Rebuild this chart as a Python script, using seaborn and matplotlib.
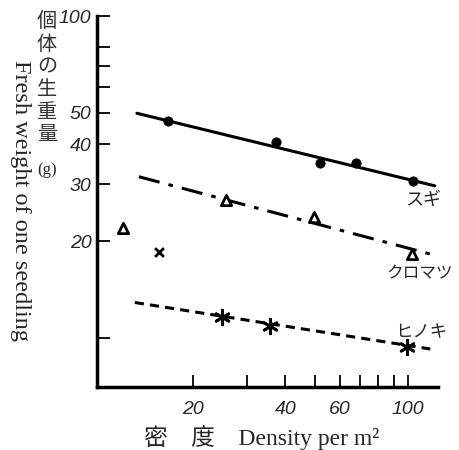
import numpy as np
import pandas as pd
import matplotlib
matplotlib.use("Agg")
import matplotlib.pyplot as plt
import seaborn as sns

# measured points (density per m2, fresh weight g)
sugi_x = [16.7, 37.4, 51.9, 67.6, 104]
sugi_y = [47.3, 40.5, 35.0, 35.0, 30.8]
kuromatsu_x = [25.6, 49.5, 103]
kuromatsu_y = [26.8, 23.8, 18.3]
kuromatsu_out_x = [11.9]
kuromatsu_out_y = [22.0]
hinoki_x = [24.9, 35.6, 98.8]
hinoki_y = [11.6, 10.9, 9.4]
hinoki_out_x = [15.6]
hinoki_out_y = [18.5]

# fitted lines (end points)
sugi_fit_x = [13.2, 122]
sugi_fit_y = [49.9, 29.7]
kuromatsu_fit_x = [13.4, 119]
kuromatsu_fit_y = [31.7, 18.2]
hinoki_fit_x = [13.0, 118]
hinoki_fit_y = [12.9, 9.25]

x_ticks = [20, 40, 60, 100]
x_minor = [30, 50, 70, 80, 90]
y_ticks = [20, 30, 40, 50, 100]
y_minor = [10, 60, 70, 80]

sns.set_style("ticks")
plt.rcParams['font.family'] = ['Liberation Serif', 'Noto Sans CJK JP']

fig = plt.figure(figsize=(4.59, 4.5), dpi=100)
ax = fig.add_axes([0.2113, 0.14, 0.743, 0.8244])

sns.lineplot(x=sugi_fit_x, y=sugi_fit_y, ax=ax, color="black", lw=2.2)
sns.lineplot(x=kuromatsu_fit_x, y=kuromatsu_fit_y, ax=ax, color="black", lw=2.2,
             dashes=False, linestyle=(0, (7, 3, 1.5, 3)))
sns.lineplot(x=hinoki_fit_x, y=hinoki_fit_y, ax=ax, color="black", lw=2.2,
             linestyle=(0, (3, 2)))

sns.scatterplot(x=sugi_x, y=sugi_y, ax=ax, color="black", marker="o", s=45,
                edgecolor="black", zorder=5)
sns.scatterplot(x=kuromatsu_x + kuromatsu_out_x, y=kuromatsu_y + kuromatsu_out_y, ax=ax,
                marker="^", s=55, facecolor="white", edgecolor="black",
                linewidth=2, zorder=5)
sns.scatterplot(x=hinoki_x, y=hinoki_y, ax=ax, marker=(6, 2, 0), s=110,
                color="black", linewidth=2, zorder=5)
sns.scatterplot(x=hinoki_out_x, y=hinoki_out_y, ax=ax, marker="x", s=40,
                color="black", linewidth=2, zorder=5)

ax.set_xscale("log")
ax.set_yscale("log")
ax.set_xlim(9.8, 125)
ax.set_ylim(7.05, 100)

ax.set_xticks(x_ticks)
ax.set_xticks(x_minor, minor=True)
ax.set_yticks(y_ticks)
ax.set_yticks(y_minor, minor=True)
ax.xaxis.set_minor_formatter(matplotlib.ticker.NullFormatter())
ax.yaxis.set_minor_formatter(matplotlib.ticker.NullFormatter())
ax.set_xticklabels([str(v) for v in x_ticks], fontstyle="italic",
                   family="Liberation Sans", fontsize=14)
ax.set_yticklabels([str(v) for v in y_ticks], fontstyle="italic",
                   family="Liberation Sans", fontsize=14)
ax.tick_params(which="both", direction="in", length=9, width=1.3, color="black")
ax.tick_params(axis="x", pad=10)
ax.tick_params(axis="y", pad=4)

sns.despine(ax=ax)
for s in ["left", "bottom"]:
    ax.spines[s].set_linewidth(2.5)
    ax.spines[s].set_color("black")

# species labels
jp = ["Noto Sans CJK JP"]
ax.text(97.7, 26.9, "スギ", ha="left", va="center", fontsize=13, family=jp)
ax.text(85.0, 15.9, "クロマツ", ha="left", va="center", fontsize=12, family=jp)
ax.text(90.8, 10.4, "ヒノキ", ha="left", va="center", fontsize=12.5, family=jp)

# axis labels
fig.text(0.102, 0.975, "個\n体\nの\n生\n重\n量", ha="center", va="top",
         fontsize=14.5, family=jp, linespacing=1.1, color="#333333")
fig.text(0.102, 0.622, "(g)", ha="center", va="center", fontsize=12,
         family="Liberation Serif")
fig.text(0.044, 0.555, "Fresh weight of one seedling", rotation=270,
         ha="center", va="center", fontsize=17.5, family="Liberation Serif")
fig.text(0.57, 0.028, "密　度　Density per m²", ha="center", va="center",
         fontsize=17, family=["Liberation Serif", "Noto Sans CJK JP"])

fig.savefig("out.png", dpi=100)
